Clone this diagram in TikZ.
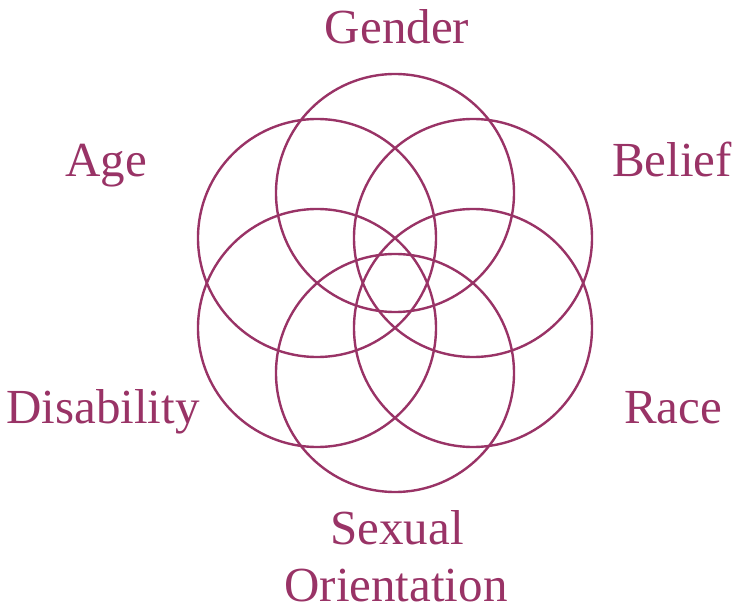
\documentclass[tikz,border=0pt]{standalone}
\usepackage{fontspec}
\setmainfont{Liberation Serif}
\definecolor{plum}{HTML}{993366}
\begin{document}
\begin{tikzpicture}[x=1pt,y=-1pt,
  ring/.style={circle,draw=plum,line width=2.4pt,minimum size=238pt,inner sep=0pt},
  lab/.style={text=plum,anchor=base,inner sep=0pt,font=\fontsize{49}{55}\selectfont}]
\useasboundingbox (0,0) rectangle (734,612);
\node[ring] (cgender) at (395,193) {};
\node[ring] (cbelief) at (473,238) {};
\node[ring] (crace) at (473,328) {};
\node[ring] (csexual) at (395,373) {};
\node[ring] (cdisab) at (317,328) {};
\node[ring] (cage) at (317,238) {};
\node[lab] (gender) at (397,44) {Gender};
\node[lab] (age) at (106,177) {Age};
\node[lab] (belief) at (672,177) {Belief};
\node[lab] (race) at (673,423) {Race};
\node[lab] (disab) at (103,423) {Disability};
\node[lab] (sexual) at (397,544) {Sexual};
\node[lab] (orient) at (396,601) {Orientation};
\end{tikzpicture}
\end{document}
